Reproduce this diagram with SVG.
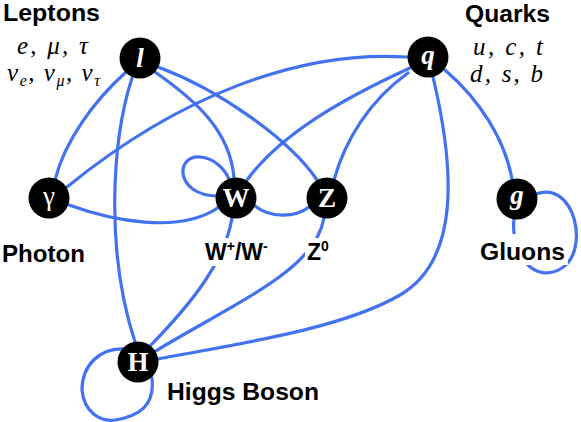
<svg xmlns="http://www.w3.org/2000/svg" width="581" height="422" viewBox="0 0 581 422">
<style>
.e{fill:none;stroke:#4272f0;stroke-width:3.2;stroke-linecap:round}
.n{fill:#000}
.nl{fill:#fff;font-family:"Liberation Serif",serif;font-size:27px;text-anchor:middle}
.it{font-style:italic;font-weight:bold}
.bd{font-weight:bold}
.lab{font-family:"Liberation Sans",Arial,sans-serif;font-weight:bold;font-size:23px;fill:#000}
.sym{font-family:"Liberation Serif",serif;font-style:italic;font-size:25px;fill:#000}
.bg{fill:#fff}
</style>
<rect width="581" height="422" fill="#fff"/>
<g id="connectors">
<path class="e" d="M125,73 C95,100 65,140 55,180"/>
<path class="e" d="M132,78 C112,140 105,250 135,342"/>
<path class="e" d="M155,72 C195,100 230,130 234,178"/>
<path class="e" d="M158,67 C220,90 290,140 317,180"/>
<path class="e" d="M407,57 C300,50 180,95 67,187"/>
<path class="e" d="M410,68 C340,100 280,135 247,180"/>
<path class="e" d="M408,73 C370,100 345,140 334,180"/>
<path class="e" d="M433,77 C455,170 460,260 400,295 C340,330 230,345 158,359"/>
<path class="e" d="M445,70 C480,100 505,140 512,179"/>
<path class="e" d="M536,194 C575,180 590,250 562,268 C535,285 510,255 514,219"/>
<path class="e" d="M217,196 C175,195 175,155 200,157 C215,158 225,170 229,179"/>
<path class="e" d="M69,205 C110,220 180,235 219,207"/>
<path class="e" d="M255,206 C270,218 295,218 309,207"/>
<path class="e" d="M324,218 C315,270 240,300 154,352"/>
<path class="e" d="M232,218 C225,260 195,300 150,346"/>
<path class="e" d="M124,349 C100,348 82,365 82,390 C84,412 100,422 115,420 C140,416 155,405 152,378"/>
</g>
<g id="node-l"><circle class="n" cx="140" cy="58" r="20.5"/><text class="nl it" x="140" y="67">l</text></g>
<g id="node-q"><circle class="n" cx="428" cy="57" r="20.5"/><text class="nl it" x="428" y="64">q</text></g>
<g id="node-gamma"><circle class="n" cx="49" cy="198" r="20.5"/><text class="nl" x="49" y="205">γ</text></g>
<g id="node-W"><circle class="n" cx="236" cy="198" r="20.5"/><text class="nl bd" x="236" y="207">W</text></g>
<g id="node-Z"><circle class="n" cx="327" cy="198" r="20.5"/><text class="nl bd" x="327" y="207">Z</text></g>
<g id="node-g"><circle class="n" cx="517" cy="199" r="20.5"/><text class="nl it" x="517" y="204">g</text></g>
<g id="node-H"><circle class="n" cx="138" cy="362" r="20.5"/><text class="nl bd" x="138" y="371">H</text></g>
<g id="labels">
<text class="lab" x="3" y="21" textLength="97" lengthAdjust="spacingAndGlyphs">Leptons</text>
<text class="sym" x="17" y="54" textLength="71">e, μ, τ</text>
<text class="sym" x="7" y="81" font-size="27" textLength="93">ν<tspan font-size="16" dy="5">e</tspan><tspan dy="-5">, ν</tspan><tspan font-size="16" dy="5">μ</tspan><tspan dy="-5">, ν</tspan><tspan font-size="16" dy="5">τ</tspan></text>
<text class="lab" x="465" y="22" textLength="85" lengthAdjust="spacingAndGlyphs">Quarks</text>
<text class="sym" x="473" y="55" textLength="70">u, c, t</text>
<text class="sym" x="470" y="82" textLength="73">d, s, b</text>
<text class="lab" x="2" y="262" font-size="24" textLength="83" lengthAdjust="spacingAndGlyphs">Photon</text>
<rect class="bg" x="203" y="238" width="72" height="28"/>
<text class="lab" x="205" y="260" font-size="22">W<tspan font-size="14" dy="-9">+</tspan><tspan dy="9">/W</tspan><tspan font-size="14" dy="-9">-</tspan></text>
<rect class="bg" x="305" y="238" width="42" height="28"/>
<text class="lab" x="307" y="260" font-size="22">Z<tspan font-size="14" dy="-9">0</tspan></text>
<rect class="bg" x="478" y="234" width="90" height="31"/>
<text class="lab" x="480" y="260" font-size="24" textLength="85" lengthAdjust="spacingAndGlyphs">Gluons</text>
<text class="lab" x="167" y="400" textLength="152" lengthAdjust="spacingAndGlyphs">Higgs Boson</text>
</g>
</svg>
